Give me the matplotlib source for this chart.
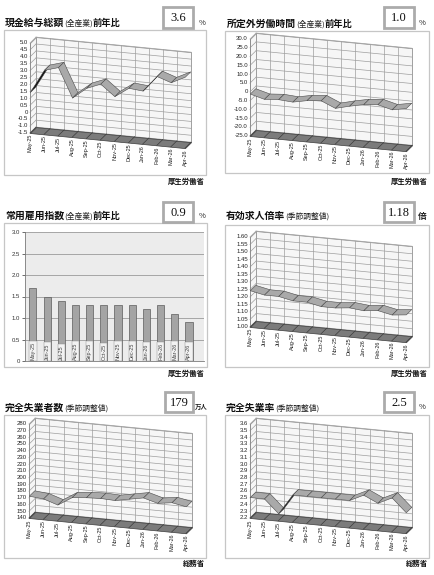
import numpy as np
import matplotlib
matplotlib.use("Agg")
import matplotlib.pyplot as plt
from matplotlib.patches import Rectangle
from mpl_toolkits.mplot3d import proj3d
from mpl_toolkits.mplot3d.art3d import Poly3DCollection

W, H = 434, 575
JP = ["Noto Sans CJK JP", "DejaVu Sans"]
plt.rcParams["font.family"] = ["Liberation Sans", "DejaVu Sans"]

# ---- data ----
months = ["May-25", "Jun-25", "Jul-25", "Aug-25", "Sep-25", "Oct-25",
          "Nov-25", "Dec-25", "Jan-26", "Feb-26", "Mar-26", "Apr-26"]

wage_yoy = [1.4, 3.1, 3.4, 1.3, 2.1, 2.5, 1.7, 2.4, 2.3, 3.45, 3.1, 3.6]
overtime_yoy = [-1.4, -3.6, -3.0, -3.6, -2.0, -1.3, -4.8, -2.8, -1.1, -0.4, -2.5, -1.0]
employment_yoy = [1.7, 1.5, 1.4, 1.3, 1.3, 1.3, 1.3, 1.3, 1.2, 1.3, 1.1, 0.9]
job_ratio = [1.24, 1.22, 1.22, 1.20, 1.20, 1.18, 1.18, 1.19, 1.18, 1.19, 1.17, 1.18]
unemployed = [172, 170, 163, 176, 178, 179, 178, 182, 186, 180, 183, 179]
unemp_rate = [2.5, 2.5, 2.3, 2.6, 2.6, 2.6, 2.6, 2.6, 2.7, 2.6, 2.7, 2.5]

wage_ticks = np.round(np.arange(-1.5, 5.01, 0.5), 2)
overtime_ticks = np.round(np.arange(-25, 30.1, 5), 1)
employment_ticks = np.round(np.arange(0, 3.01, 0.5), 1)
job_ticks = np.round(np.arange(1.0, 1.601, 0.05), 2)
unemployed_ticks = np.arange(140, 281, 10)
rate_ticks = np.round(np.arange(2.2, 3.61, 0.1), 1)

ELEV, AZIM = 18, -72.5

fig = plt.figure(figsize=(W / 100, H / 100), dpi=100)
bg = fig.add_axes([0, 0, 1, 1])
bg.set_xlim(0, W)
bg.set_ylim(H, 0)
bg.axis("off")


def frame(x0, y0, x1, y1):
    bg.add_patch(Rectangle((x0, y0), x1 - x0, y1 - y0, fill=False, ec="#c6c6c6", lw=0.9))


def headline(x, y, main, paren, tail=None):
    t = bg.text(x, y, main, fontsize=7.1, fontweight="bold", family=JP, va="baseline", color="#111")
    t = bg.annotate(paren, xy=(1, 0), xycoords=t, ha="left", va="bottom",
                    fontsize=5.6, family=JP, color="#222")
    if tail:
        bg.annotate(tail, xy=(1, 0), xycoords=t, ha="left", va="bottom",
                    fontsize=6.7, fontweight="bold", family=JP, color="#111")


def value_box(x0, y0, x1, y1, s, unit, ux, uy, usize=5.5):
    bg.add_patch(Rectangle((x0, y0), x1 - x0, y1 - y0, fc="white", ec="#ababab", lw=2))
    bg.text((x0 + x1) / 2, (y0 + y1) / 2 + 0.5, s, ha="center", va="center",
            family="Liberation Serif", fontsize=9, color="#111")
    bg.text(ux, uy, unit, ha="center", va="baseline", fontsize=usize, family=JP,
            fontweight="bold" if unit != "%" else "normal", color="#222")


def source(xr, y, s):
    bg.text(xr, y, s, ha="right", va="baseline", fontsize=5.3, fontweight="bold", family=JP, color="#111")


def fmt_label(t, digits):
    if abs(t) < 1e-9 and digits < 2:
        return "0"
    return f"{t:.{digits}f}"


def ribbon_panel(flb, front_w, front_h, values, ticks, digits):
    n = len(values)
    zmin, zmax = ticks[0], ticks[-1]
    L = 250
    cx, cy = flb[0] + front_w / 2, flb[1] - front_h / 2
    ax = fig.add_axes([(cx - L / 2) / W, 1 - (cy + L / 2) / H, L / W, L / H],
                      projection="3d", proj_type="ortho")
    ax.set_axis_off()
    ax.set_facecolor("none")
    ax.computed_zorder = False
    ax.view_init(elev=ELEV, azim=AZIM)
    a, e = np.radians(AZIM), np.radians(ELEV)
    bx = 162.0
    bz = bx * (front_h / np.cos(e)) / (front_w / -np.sin(a))
    by = 20.0
    ax.set_box_aspect((bx, by, bz))

    grid_c = "#9e9e9e"
    # walls
    back = [[(0, 1, zmin), (n - 1, 1, zmin), (n - 1, 1, zmax), (0, 1, zmax)]]
    left = [[(0, 0, zmin), (0, 1, zmin), (0, 1, zmax), (0, 0, zmax)]]
    floor = [[(0, 0, zmin), (n - 1, 0, zmin), (n - 1, 1, zmin), (0, 1, zmin)]]
    ax.add_collection3d(Poly3DCollection(back, facecolor="#f6f6f6", edgecolor="#8a8a8a", lw=0.5, zorder=1))
    ax.add_collection3d(Poly3DCollection(left, facecolor="#f6f6f6", edgecolor="#8a8a8a", lw=0.5, zorder=1))
    for t in ticks:
        ax.plot([0, n - 1], [1, 1], [t, t], color=grid_c, lw=0.5, zorder=1.5)
        ax.plot([0, 0], [0, 1], [t, t], color=grid_c, lw=0.5, zorder=1.5)
    for i in range(n):
        ax.plot([i, i], [1, 1], [zmin, zmax], color=grid_c, lw=0.5, zorder=1.5)
    ax.plot([0, 0], [0, 0], [zmin, zmax], color="#8a8a8a", lw=0.6, zorder=1.6)
    ax.add_collection3d(Poly3DCollection(floor, facecolor="#7b7b7b", edgecolor="#3c3c3c", lw=0.5, zorder=2))
    for i in range(n):
        ax.plot([i, i], [0, 1], [zmin, zmin], color="#3c3c3c", lw=0.5, zorder=2.5)

    # ribbon: faces seen from below are drawn black
    eye = np.array([np.cos(e) * np.cos(a), np.cos(e) * np.sin(a), np.sin(e)])
    y0, y1 = 0.05, 0.95
    quads, cols = [], []
    for i in range(n - 1):
        v0, v1 = values[i], values[i + 1]
        quads.append([(i, y0, v0), (i + 1, y0, v1), (i + 1, y1, v1), (i, y1, v0)])
        dx = bx / (n - 1)
        dz = bz * (v1 - v0) / (zmax - zmin)
        facing = -dz * eye[0] + dx * eye[2]
        cols.append("#a9a9a9" if facing > 0 else "#0d0d0d")
    ax.add_collection3d(Poly3DCollection(quads, facecolors=cols, edgecolors="#4a4a4a", lw=0.4, zorder=3))

    ax.set_xlim(0, n - 1)
    ax.set_ylim(0, 1)
    ax.set_zlim(zmin, zmax)

    # fit the projected box onto the target pixel corner
    def project(xs, ys, zs):
        M = ax.get_proj()
        px, py, _ = proj3d.proj_transform(np.asarray(xs, float), np.asarray(ys, float),
                                          np.asarray(zs, float), M)
        return px, py

    def corners():
        px, py = project([0, n - 1], [0, 0], [zmin, zmin])
        return ax.transData.transform(np.column_stack([px, py]))

    p = corners()
    ax.set_box_aspect((bx, by, bz), zoom=front_w / (p[1, 0] - p[0, 0]))
    p = corners()
    pos = ax.get_position()
    ax.set_position([pos.x0 + (flb[0] - p[0, 0]) / W,
                     pos.y0 + ((H - flb[1]) - p[0, 1]) / H,
                     pos.width, pos.height])

    # labels, placed at projected positions in the axes' 2D coordinates
    tx, ty = project(np.full(len(ticks), -0.15), np.zeros(len(ticks)), ticks)
    for t, x2, y2 in zip(ticks, tx, ty):
        ax.text2D(x2, y2, fmt_label(t, digits), transform=ax.transData, ha="right", va="center",
                  fontsize=4.3, color="#222", zorder=4)
    mx, my = project(np.arange(n), np.zeros(n), np.full(n, zmin - 0.012 * (zmax - zmin)))
    for m, x2, y2 in zip(months, mx, my):
        ax.text2D(x2, y2, m, transform=ax.transData, rotation=90, ha="center", va="top",
                  fontsize=4.0, color="#222", zorder=4)
    return ax


# ---- panel 1 ----
frame(4, 30, 206, 175)
headline(5, 26, "現金給与総額", "(全産業)", "前年比")
value_box(163, 7, 193, 28, "3.6", "%", 202, 25)
ribbon_panel((30, 133), 155, 90, wage_yoy, wage_ticks, 1)
source(205, 184, "厚生労働省")

# ---- panel 2 ----
frame(225, 31, 429, 173)
headline(227, 27, "所定外労働時間", "(全産業)", "前年比")
value_box(384, 7, 414, 28, "1.0", "%", 422, 25)
ribbon_panel((250, 136), 156, 97, overtime_yoy, overtime_ticks, 1)
source(428, 184, "厚生労働省")

# ---- panel 3 (bars) ----
frame(4, 223, 207, 367)
headline(5, 219, "常用雇用指数", "(全産業)", "前年比")
value_box(163, 202, 193, 222, "0.9", "%", 202, 218)
bax = fig.add_axes([25 / W, 1 - 361 / H, 179 / W, 129 / H])
xpos = np.arange(len(months))
bax.bar(xpos, employment_yoy, width=0.5, color="#a4a4a4", edgecolor="#5c5c5c", lw=0.5, zorder=2)
bax.set_xlim(-0.56, 12.06)
bax.set_ylim(0, 3)
bax.set_facecolor("#ececec")
bax.set_yticks(employment_ticks)
bax.set_yticklabels([fmt_label(t, 1) for t in employment_ticks])
bax.yaxis.grid(True, color="#9a9a9a", lw=0.6)
bax.set_axisbelow(True)
bax.set_xticks([])
for s in ["top", "right"]:
    bax.spines[s].set_visible(False)
for s in ["left", "bottom"]:
    bax.spines[s].set_color("#7a7a7a")
    bax.spines[s].set_linewidth(0.6)
bax.tick_params(axis="y", length=2, width=0.5, labelsize=4.3, pad=1.5, colors="#333")
for i, m in enumerate(months):
    bax.text(i, 0.03, m, rotation=90, ha="center", va="bottom", fontsize=3.9, color="#444",
             bbox=dict(boxstyle="square,pad=0.2", fc="#f2f2f2", ec="#888", lw=0.3), zorder=3)
source(205, 376, "厚生労働省")

# ---- panel 4 ----
frame(225, 225, 429, 367)
headline(226, 219, "有効求人倍率", "(季節調整値)")
value_box(384, 202, 414, 222, "1.18", "倍", 422, 219, 6.2)
ribbon_panel((250, 327), 156, 90, job_ratio, job_ticks, 2)
source(428, 376, "厚生労働省")

# ---- panel 5 ----
frame(4, 415, 206, 558)
headline(5, 411, "完全失業者数", "(季節調整値)")
value_box(165, 392, 193, 412, "179", "万人", 201, 409, 4.6)
ribbon_panel((29, 518), 157, 94, unemployed, unemployed_ticks, 0)
source(205, 566, "総務省")

# ---- panel 6 ----
frame(225, 415, 429, 558)
headline(226, 411, "完全失業率", "(季節調整値)")
value_box(384, 392, 414, 412, "2.5", "%", 422, 409)
ribbon_panel((250, 518), 156, 94, unemp_rate, rate_ticks, 1)
source(428, 566, "総務省")

fig.savefig("out.png", dpi=100)
